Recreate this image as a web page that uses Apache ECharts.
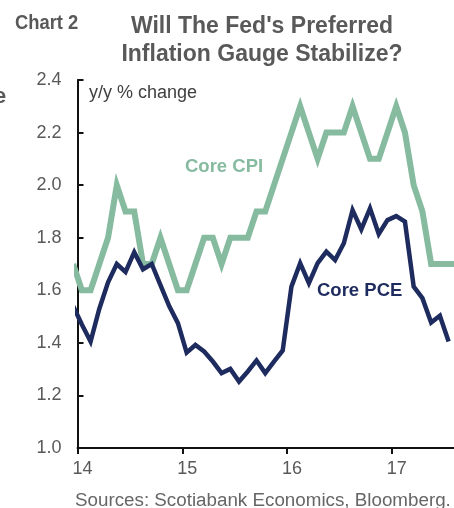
<!DOCTYPE html>
<html>
<head>
<meta charset="utf-8">
<script src="https://cdn.jsdelivr.net/npm/echarts@6/dist/echarts.min.js"></script>
<style>
html,body{margin:0;padding:0;background:#fff;overflow:hidden;width:454px;height:508px;}
#c{width:474px;height:508px;}
</style>
</head>
<body>
<div id="c"></div>
<script>
// Monthly observations, Dec 2013 .. Aug 2017
const months = [
  '2013-12',
  '2014-01','2014-02','2014-03','2014-04','2014-05','2014-06','2014-07','2014-08','2014-09','2014-10','2014-11','2014-12',
  '2015-01','2015-02','2015-03','2015-04','2015-05','2015-06','2015-07','2015-08','2015-09','2015-10','2015-11','2015-12',
  '2016-01','2016-02','2016-03','2016-04','2016-05','2016-06','2016-07','2016-08','2016-09','2016-10','2016-11','2016-12',
  '2017-01','2017-02','2017-03','2017-04','2017-05','2017-06','2017-07','2017-08'
];
const coreCPI = [
  1.7,
  1.6,1.6,1.7,1.8,2.0,1.9,1.9,1.7,1.7,1.8,1.7,1.6,
  1.6,1.7,1.8,1.8,1.7,1.8,1.8,1.8,1.9,1.9,2.0,2.1,
  2.2,2.3,2.2,2.1,2.2,2.2,2.2,2.3,2.2,2.1,2.1,2.2,
  2.3,2.2,2.0,1.9,1.7,1.7,1.7,1.7
];
const corePCE = [
  1.54,
  1.47,1.405,1.53,1.63,1.70,1.67,1.745,1.68,1.70,1.62,1.54,1.475,
  1.363,1.392,1.367,1.329,1.285,1.301,1.253,1.291,1.333,1.285,1.329,1.371,
  1.614,1.703,1.627,1.703,1.747,1.715,1.779,1.905,1.832,1.912,1.814,1.867,
  1.882,1.861,1.614,1.57,1.477,1.503,1.405,null
];
const yTicks = ['1.0','1.2','1.4','1.6','1.8','2.0','2.2','2.4'];
const xTickLabels = ['14','15','16','17'];

// month string -> position on year axis (yy + mid-month fraction)
function pos(m){
  const [y, mo] = m.split('-').map(Number);
  return (y - 2000) + (mo - 0.5) / 12;
}
const cpiData = months.map((m, i) => [pos(m), coreCPI[i]]);
const pceData = months.map((m, i) => corePCE[i] == null ? null : [pos(m), corePCE[i]]).filter(d => d);

const FONT = "'Liberation Sans', Arial, sans-serif";
const chart = echarts.init(document.getElementById('c'), null, {renderer: 'canvas'});
chart.setOption({
  animation: false,
  backgroundColor: '#ffffff',
  grid: {left: 77.5, top: 80, bottom: 60, right: 0, containLabel: false},
  xAxis: {
    type: 'value',
    min: 14, max: 17.784, interval: 1,
    axisLine: {show: true, lineStyle: {color: '#111', width: 2}},
    axisTick: {show: true, inside: false, length: 6, lineStyle: {color: '#111', width: 2}},
    splitLine: {show: false},
    axisLabel: {
      show: true, margin: 12, color: '#595959', fontSize: 18, fontFamily: FONT,
      padding: [0, 0, 0, 10],
      showMaxLabel: false,
      formatter: v => {
        const idx = Math.round(v) - 14;
        return Math.abs(v - Math.round(v)) < 1e-6 && xTickLabels[idx] ? xTickLabels[idx] : '';
      }
    }
  },
  yAxis: {
    type: 'value',
    min: 1.0, max: 2.4, interval: 0.2,
    axisLine: {show: true, lineStyle: {color: '#111', width: 2}},
    axisTick: {show: true, inside: true, length: 6, lineStyle: {color: '#111', width: 2}},
    splitLine: {show: false},
    axisLabel: {
      margin: 16, color: '#595959', fontSize: 18, fontFamily: FONT,
      formatter: v => yTicks[Math.round((v - 1.0) / 0.2)] || ''
    }
  },
  series: [
    {
      name: 'Core CPI', type: 'line', data: cpiData, showSymbol: false, symbol: 'none',
      clip: true,
      lineStyle: {color: '#86bba0', width: 6, join: 'miter'},
      z: 2
    },
    {
      name: 'Core PCE', type: 'line', data: pceData, showSymbol: false, symbol: 'none',
      clip: true,
      lineStyle: {color: '#1e2b5e', width: 4.5, join: 'miter'},
      z: 3
    }
  ],
  graphic: [
    {type: 'text', left: -6, top: 86, style: {text: 'e', fill: '#595959', font: 'bold 22px ' + FONT}},
    {type: 'text', x: 15, y: 23, scaleX: 0.875, originX: 0, originY: 0, style: {text: 'Chart 2', fill: '#595959', font: 'bold 21px ' + FONT, verticalAlign: 'middle', align: 'left'}},
    {type: 'text', x: 262, y: 27, style: {text: "Will The Fed's Preferred", fill: '#595959', font: 'bold 23px ' + FONT, verticalAlign: 'middle', align: 'center'}},
    {type: 'text', x: 262, y: 54.5, style: {text: 'Inflation Gauge Stabilize?', fill: '#595959', font: 'bold 23px ' + FONT, verticalAlign: 'middle', align: 'center'}},
    {type: 'text', x: 89, y: 93, style: {text: 'y/y % change', fill: '#404040', font: '18px ' + FONT, verticalAlign: 'middle', align: 'left'}},
    {type: 'text', x: 185, y: 167, style: {text: 'Core CPI', fill: '#86bba0', font: 'bold 18.5px ' + FONT, verticalAlign: 'middle', align: 'left'}},
    {type: 'text', x: 317, y: 291, style: {text: 'Core PCE', fill: '#1e2b5e', font: 'bold 18.5px ' + FONT, verticalAlign: 'middle', align: 'left'}},
    {type: 'text', x: 75, y: 501, style: {text: 'Sources: Scotiabank Economics, Bloomberg.', fill: '#666666', font: '18.8px ' + FONT, verticalAlign: 'middle', align: 'left'}}
  ]
});
</script>
</body>
</html>
